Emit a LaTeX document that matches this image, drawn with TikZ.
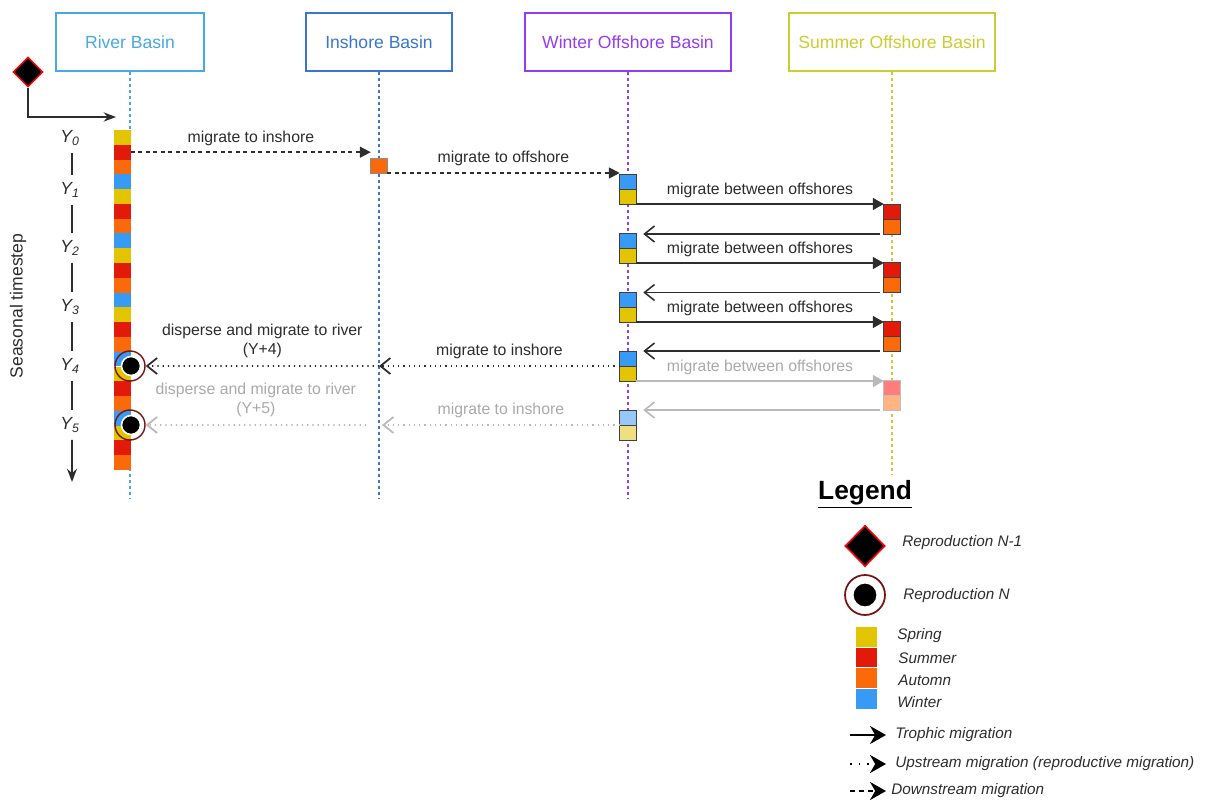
\documentclass[tikz,border=0pt]{standalone}
\usepackage{fontspec}
\setmainfont{Liberation Sans}
\usetikzlibrary{arrows.meta,shapes.geometric}

\definecolor{riverc}{RGB}{74,168,226}
\definecolor{inshorec}{RGB}{58,118,204}
\definecolor{winterc}{RGB}{150,60,240}
\definecolor{summerc}{RGB}{204,204,48}
\definecolor{springsq}{RGB}{226,196,0}
\definecolor{summersq}{RGB}{226,26,10}
\definecolor{autumnsq}{RGB}{250,105,10}
\definecolor{wintersq}{RGB}{55,155,245}
\definecolor{lspringsq}{RGB}{240,222,130}
\definecolor{lsummersq}{RGB}{255,125,125}
\definecolor{lautumnsq}{RGB}{255,180,130}
\definecolor{lwintersq}{RGB}{150,200,250}
\definecolor{labelc}{RGB}{45,45,45}
\definecolor{fadetext}{RGB}{170,170,170}
\definecolor{fadearrow}{RGB}{185,185,185}
\definecolor{reproc}{RGB}{120,20,20}

\tikzset{
  basin/.style={draw, line width=0.9pt, minimum height=1.16cm, inner sep=0pt, font=\fontsize{10}{12}\selectfont},
  lifeline/.style={line width=0.7pt, dash pattern=on 0.06cm off 0.06cm},
  sq/.style={minimum width=0.34cm, minimum height=0.296cm, inner sep=0pt, outer sep=0pt},
  blk/.style={minimum width=0.33cm, minimum height=0.3cm, inner sep=0pt, outer sep=0pt, draw=black!75, line width=0.4pt},
  lbl/.style={font=\fontsize{9}{10.5}\selectfont, text=labelc},
  trophic/.style={line width=0.9pt, draw=labelc, -{Triangle[length=0.22cm,width=0.24cm]}},
  backtrophic/.style={line width=0.9pt, draw=labelc, -{Straight Barb[length=0.2cm,width=0.32cm]}},
  downstream/.style={line width=1pt, draw=labelc, dash pattern=on 0.08cm off 0.07cm, -{Triangle[length=0.22cm,width=0.22cm]}},
  upstream/.style={line width=1pt, draw=labelc, dash pattern=on 0.025cm off 0.08cm, -{Straight Barb[length=0.2cm,width=0.32cm]}},
  repro/.style={circle, draw=reproc, line width=0.8pt, minimum size=0.6cm, inner sep=0pt},
  reprodot/.style={circle, fill=black, draw=white, line width=0.9pt, minimum size=0.38cm, inner sep=0pt},
  yearlbl/.style={font=\fontsize{10}{12}\selectfont\itshape, text=labelc, inner sep=1pt},
  legtext/.style={anchor=west, font=\fontsize{8.7}{10}\selectfont\itshape, text=labelc, inner sep=0pt},
  legsq/.style={minimum width=0.42cm, minimum height=0.39cm, inner sep=0pt, outer sep=0pt}
}

\begin{document}
\begin{tikzpicture}[x=0.02cm, y=-0.02cm, >=Stealth]
\useasboundingbox[fill=white] (0,0) rectangle (1206,803);

% basins
\node[basin, draw=riverc, text=riverc, minimum width=2.96cm] (riv) at (130,42) {River Basin};
\node[basin, draw=inshorec, text=inshorec, minimum width=2.92cm] (insh) at (379,42) {Inshore Basin};
\node[basin, draw=winterc, text=winterc, minimum width=4.12cm] (wint) at (628,42) {Winter Offshore Basin};
\node[basin, draw=summerc, text=summerc, minimum width=4.12cm] (summ) at (892,42) {Summer Offshore Basin};
\coordinate (rivend) at (130,498);
\coordinate (inshend) at (379,498);
\coordinate (wintend) at (628,498);
\coordinate (summend) at (892,475);
\draw[lifeline, riverc] (riv.south) -- (rivend);
\draw[lifeline, inshorec] (insh.south) -- (inshend);
\draw[lifeline, winterc] (wint.south) -- (wintend);
\draw[lifeline, summerc] (summ.south) -- (summend);

% reproduction N-1 entry
\node[diamond, fill=black, draw=red, line width=0.8pt, minimum width=0.6cm, minimum height=0.6cm, inner sep=0pt] (start) at (28,72) {};
\coordinate (entry) at (116,117);
\draw[->, labelc, line width=0.9pt] (start.south) |- (entry);

% river seasons
\node[sq, fill=springsq] (r0) at (122.5,137.4) {};
\node[sq, fill=summersq] (r1) at (122.5,152.2) {};
\node[sq, fill=autumnsq] (r2) at (122.5,167.0) {};
\node[sq, fill=wintersq] (r3) at (122.5,181.7) {};
\node[sq, fill=springsq] (r4) at (122.5,196.5) {};
\node[sq, fill=summersq] (r5) at (122.5,211.3) {};
\node[sq, fill=autumnsq] (r6) at (122.5,226.1) {};
\node[sq, fill=wintersq] (r7) at (122.5,240.9) {};
\node[sq, fill=springsq] (r8) at (122.5,255.6) {};
\node[sq, fill=summersq] (r9) at (122.5,270.4) {};
\node[sq, fill=autumnsq] (r10) at (122.5,285.2) {};
\node[sq, fill=wintersq] (r11) at (122.5,300.0) {};
\node[sq, fill=springsq] (r12) at (122.5,314.8) {};
\node[sq, fill=summersq] (r13) at (122.5,329.5) {};
\node[sq, fill=autumnsq] (r14) at (122.5,344.3) {};
\node[sq, fill=wintersq] (r15) at (122.5,359.1) {};
\node[sq, fill=springsq] (r16) at (122.5,373.9) {};
\node[sq, fill=summersq] (r17) at (122.5,388.7) {};
\node[sq, fill=autumnsq] (r18) at (122.5,403.4) {};
\node[sq, fill=wintersq] (r19) at (122.5,418.2) {};
\node[sq, fill=springsq] (r20) at (122.5,433.0) {};
\node[sq, fill=summersq] (r21) at (122.5,447.8) {};
\node[sq, fill=autumnsq] (r22) at (122.5,462.6) {};

% reproduction N
\node[repro] (c4) at (130,366) {};
\node[reprodot] (c4dot) at (131,366) {};
\node[repro] (c5) at (130,425) {};
\node[reprodot] (c5dot) at (131,425) {};

% years
\node[yearlbl] (y0) at (70,138) {Y\textsubscript{0}};
\node[yearlbl] (y1) at (70,190) {Y\textsubscript{1}};
\node[yearlbl] (y2) at (70,248) {Y\textsubscript{2}};
\node[yearlbl] (y3) at (70,307) {Y\textsubscript{3}};
\node[yearlbl] (y4) at (70,366) {Y\textsubscript{4}};
\node[yearlbl] (y5) at (70,425) {Y\textsubscript{5}};
\coordinate (yend) at (72,482);
\draw[labelc, line width=1pt, shorten <=3pt, shorten >=3pt] ([xshift=0.04cm]y0.south) -- ([xshift=0.04cm]y1.north);
\draw[labelc, line width=1pt, shorten <=3pt, shorten >=3pt] ([xshift=0.04cm]y1.south) -- ([xshift=0.04cm]y2.north);
\draw[labelc, line width=1pt, shorten <=3pt, shorten >=3pt] ([xshift=0.04cm]y2.south) -- ([xshift=0.04cm]y3.north);
\draw[labelc, line width=1pt, shorten <=3pt, shorten >=3pt] ([xshift=0.04cm]y3.south) -- ([xshift=0.04cm]y4.north);
\draw[labelc, line width=1pt, shorten <=3pt, shorten >=3pt] ([xshift=0.04cm]y4.south) -- ([xshift=0.04cm]y5.north);
\draw[->, labelc, line width=1pt, shorten <=3pt] ([xshift=0.04cm]y5.south) -- (yend);
\node[rotate=90, font=\fontsize{10}{12}\selectfont, text=labelc] (axis) at (18,306) {Seasonal timestep};

% inshore and offshore blocks
\node[blk, fill=autumnsq, draw=black!45] (ins0) at (379,165.5) {};
\node[blk, fill=wintersq] (w1a) at (628,181.5) {};
\node[blk, fill=springsq] (w1b) at (628,196.5) {};
\node[blk, fill=wintersq] (w2a) at (628,240.5) {};
\node[blk, fill=springsq] (w2b) at (628,255.5) {};
\node[blk, fill=wintersq] (w3a) at (628,299.5) {};
\node[blk, fill=springsq] (w3b) at (628,314.5) {};
\node[blk, fill=wintersq] (w4a) at (628,358.5) {};
\node[blk, fill=springsq] (w4b) at (628,373.5) {};
\node[blk, fill=lwintersq] (w5a) at (628,417.5) {};
\node[blk, fill=lspringsq] (w5b) at (628,432.5) {};
\node[blk, fill=summersq] (s1a) at (892,211.5) {};
\node[blk, fill=autumnsq] (s1b) at (892,226.5) {};
\node[blk, fill=summersq] (s2a) at (892,270) {};
\node[blk, fill=autumnsq] (s2b) at (892,285) {};
\node[blk, fill=summersq] (s3a) at (892,328.5) {};
\node[blk, fill=autumnsq] (s3b) at (892,343.5) {};
\node[blk, fill=lsummersq, draw=black!25] (s4a) at (892,387.5) {};
\node[blk, fill=lautumnsq, draw=black!25] (s4b) at (892,402.5) {};

% downstream migrations
\draw[downstream] (r1.east) -- (ins0.north west |- r1.east) node[lbl, midway, above=0pt] (m1) {migrate to inshore};
\draw[downstream] (ins0.south east) -- (ins0.south east -| w1a.west) node[lbl, midway, above=0pt] (m2) {migrate to offshore};

% trophic migrations
\draw[trophic] (w1b.south east) -- (w1b.south east -| s1a.west) node[lbl, midway, above=0pt] (t1) {migrate between offshores};
\draw[backtrophic, shorten <=0.08cm, shorten >=0.14cm] (s1b.south west) -- (s1b.south west -| w2a.east);
\draw[trophic] (w2b.south east) -- (w2b.south east -| s2a.west) node[lbl, midway, above=0pt] (t2) {migrate between offshores};
\draw[backtrophic, shorten <=0.08cm, shorten >=0.14cm] (s2b.south west) -- (s2b.south west -| w3a.east);
\draw[trophic] (w3b.south east) -- (w3b.south east -| s3a.west) node[lbl, midway, above=0pt] (t3) {migrate between offshores};
\draw[backtrophic, shorten <=0.08cm, shorten >=0.14cm] (s3b.south west) -- (s3b.south west -| w4a.east);
\draw[trophic, draw=fadearrow] (w4b.south east) -- (w4b.south east -| s4a.west) node[lbl, text=fadetext, midway, above=0pt] (t4) {migrate between offshores};
\draw[backtrophic, draw=fadearrow, shorten <=0.08cm, shorten >=0.14cm] (s4b.south west) -- (s4b.south west -| w5a.east);

% upstream migrations
\coordinate (i4) at (w4a.south west -| insh.south);
\coordinate (i5) at ([xshift=0.06cm]w5a.south west -| insh.south);
\coordinate (i5b) at ([xshift=-0.26cm]w5a.south west -| insh.south);
\draw[upstream] (w4a.south west) -- (i4) node[lbl, midway, above=0pt] (u1) {migrate to inshore};
\draw[upstream] (i4) -- (c4.east) node[lbl, midway, above=1pt, align=center] (u2) {disperse and migrate to river\\(Y+4)};
\draw[upstream, draw=fadearrow] (w5a.south west) -- (i5) node[lbl, text=fadetext, midway, above=0pt] (u3) {migrate to inshore};
\draw[upstream, draw=fadearrow] (i5b) -- (c5.east) node[lbl, text=fadetext, midway, above=1pt, align=center] (u4) {disperse and migrate to river\\(Y+5)};

% legend
\node[font=\fontsize{15}{18}\selectfont\bfseries, text=black] (legend) at (865,494) {\underline{Legend}};
\node[diamond, fill=black, draw=red, line width=0.9pt, minimum width=0.8cm, minimum height=0.82cm, inner sep=0pt] (legdia) at (865,546) {};
\node[legtext] (legdiat) at (902,543) {Reproduction N-1};
\node[repro, minimum size=0.8cm, line width=1pt] (legcirc) at (865,595) {};
\node[reprodot, minimum size=0.5cm, line width=1.2pt] (legdot) at (865,595) {};
\node[legtext] (legcirct) at (903,596) {Reproduction N};
\node[legsq, fill=springsq] (lsp) at (866,637) {};
\node[legsq, fill=summersq] (lsu) at (866,657.5) {};
\node[legsq, fill=autumnsq] (lau) at (866,678) {};
\node[legsq, fill=wintersq] (lwi) at (866,699) {};
\node[legtext] (lspt) at (897,636) {Spring};
\node[legtext] (lsut) at (898,658) {Summer};
\node[legtext] (laut) at (898,680) {Automn};
\node[legtext] (lwit) at (897,702) {Winter};
\coordinate (lt1) at (850,735);
\coordinate (lt2) at (886,735);
\coordinate (lu1) at (850,764);
\coordinate (lu2) at (886,764);
\coordinate (ld1) at (850,791);
\coordinate (ld2) at (886,791);
\draw[black, line width=1.1pt, -{Stealth[length=0.32cm,width=0.36cm]}] (lt1) -- (lt2);
\draw[black, line width=1.2pt, dash pattern=on 0.03cm off 0.14cm, -{Stealth[length=0.32cm,width=0.36cm]}] (lu1) -- (lu2);
\draw[black, line width=1.2pt, dash pattern=on 0.1cm off 0.08cm, -{Stealth[length=0.32cm,width=0.36cm]}] (ld1) -- (ld2);
\node[legtext] (ltt) at (895,735) {Trophic migration};
\node[legtext] (lut) at (895,764) {Upstream migration (reproductive migration)};
\node[legtext] (ldt) at (891,791) {Downstream migration};
\end{tikzpicture}
\end{document}
